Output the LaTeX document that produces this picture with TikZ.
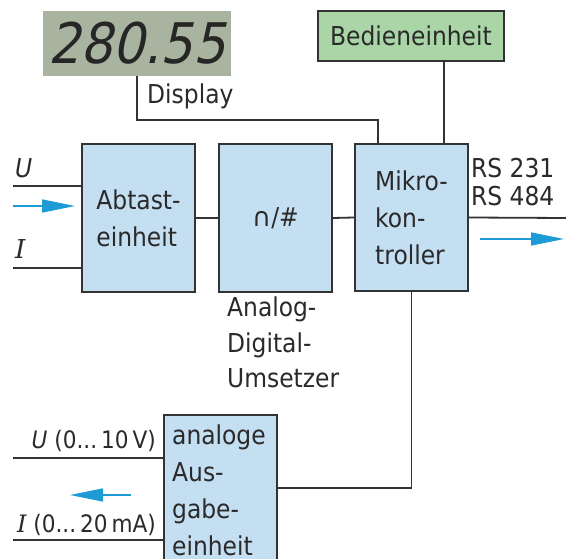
\documentclass[tikz,border=0pt]{standalone}
\usepackage{fontspec}
\setmainfont{DejaVu Sans Condensed}
\newfontfamily\symfont{DejaVu Sans}
\newfontfamily\serifit{DejaVu Serif}
\newfontfamily\lcdfont[FakeSlant=0.22]{DejaVu Sans Condensed}
\usetikzlibrary{arrows.meta,calc}
\definecolor{boxblue}{HTML}{C5DFF2}
\definecolor{boxgreen}{HTML}{AAD5A6}
\definecolor{lcdgray}{HTML}{A9B4A0}
\definecolor{edge}{HTML}{333333}
\definecolor{arrowblue}{HTML}{1E9AD6}
\definecolor{txt}{HTML}{2A2A2A}
\newcommand{\mainsz}{\fontsize{26}{37}\selectfont}
\tikzset{
  blk/.style={draw=edge, line width=1.8pt, fill=boxblue, minimum width=113pt,
    minimum height=148pt, inner sep=0pt, align=left, font=\mainsz, text=txt},
  conn/.style={draw=edge, line width=1.8pt},
  barrow/.style={draw=arrowblue, line width=1.5pt, -{Triangle[length=33pt,width=13pt]}},
  lbl/.style={inner sep=0pt, font=\mainsz, text=txt, align=left},
}
\begin{document}
\begin{tikzpicture}[x=1pt,y=-1pt]
\clip (0,0) rectangle (566,559);
\fill[white] (0,0) rectangle (566,559);
% boxes
\node[draw=none, fill=lcdgray, minimum width=188pt, minimum height=65pt, inner sep=0pt,
  font=\lcdfont\fontsize{56}{56}\selectfont, text=black!85] (disp) at (137,43.5) {280.55};
\node[blk, fill=boxgreen, minimum width=186pt, minimum height=50pt, align=center] (bed) at (411,36) {Bedieneinheit};
\node[blk] (abt) at (138.5,218) {Abtast-\\einheit};
\node[blk] (adu) at (275.5,218) {{\symfont ∩}/\#};
\node[blk, minimum height=147pt] (mik) at (411.5,217.5) {Mikro-\\kon-\\troller};
\node[blk, minimum height=185pt] (aus) at (220.5,507.5) {};
% labels (base anchor = baseline of last line)
\node[lbl, anchor=base west] (auslbl) at (172,555) {analoge\\Aus-\\gabe-\\einheit};
\node[lbl, anchor=base west] (displbl) at (147,104) {Display};
\node[lbl, anchor=base west, font=\fontsize{26}{28}\selectfont] (rslbl) at (471,206) {RS 231\\RS 484};
\node[lbl, anchor=base west, font=\fontsize{26}{35.5}\selectfont] (adulbl) at (227,388) {Analog-\\Digital-\\Umsetzer};
\node[lbl, anchor=base west] (ulbl) at (15,178) {\itshape U};
\node[lbl, anchor=base west] (ilbl) at (15,259) {\serifit\itshape I};
\node[lbl, anchor=base east, font=\fontsize{24}{28}\selectfont] (uoutlbl) at (156,448) {\itshape U\upshape\ (0...\,10\,V)};
\node[lbl, anchor=base east, font=\fontsize{24}{28}\selectfont] (ioutlbl) at (156,532) {{\serifit\itshape I}\ (0...\,20\,mA)};
% coordinates
\coordinate (uin) at (13,186);
\coordinate (iin) at (13,268);
\coordinate (ain0) at (13,206);
\coordinate (ain1) at (75,206);
\coordinate (rsend) at (566,218);
\coordinate (aout0) at (480,239);
\coordinate (aout1) at (564,239);
\coordinate (uout) at (13,458);
\coordinate (iout) at (13,540);
\coordinate (back0) at (131,495);
\coordinate (back1) at (70,495);
\coordinate (dk) at (378,120);
% connectors
\draw[conn] (uin) -- (uin -| abt.west);
\draw[conn] (iin) -- (iin -| abt.west);
\draw[conn] (abt.east) -- (adu.west);
\draw[conn] (adu.east) -- (mik.west);
\draw[conn] (mik.east) -- (rsend);
\draw[conn] ([xshift=33pt]bed.south) -- ([xshift=33pt]bed.south |- mik.north);
\draw[conn] (disp.south) |- (dk) -- (dk |- mik.north);
\draw[conn] (mik.south) |- ([yshift=19.5pt]aus.east);
\draw[conn] (uout) -- (uout -| aus.west);
\draw[conn] (iout) -- (iout -| aus.west);
% blue arrows
\draw[barrow] (ain0) -- (ain1);
\draw[barrow] (aout0) -- (aout1);
\draw[barrow] (back0) -- (back1);
\end{tikzpicture}
\end{document}
